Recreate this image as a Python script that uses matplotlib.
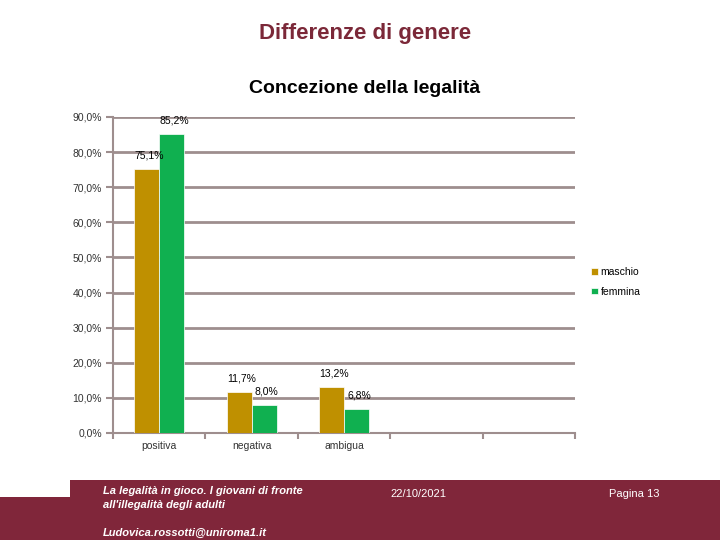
import matplotlib
matplotlib.use("Agg")
import matplotlib.pyplot as plt
from matplotlib.patches import Polygon
import numpy as np

categories = ["positiva", "negativa", "ambigua"]
maschio = [75.1, 11.7, 13.2]
femmina = [85.2, 8.0, 6.8]
series_names = ["maschio", "femmina"]
yticks = [0, 10, 20, 30, 40, 50, 60, 70, 80, 90]

W, H = 720, 540
fig = plt.figure(figsize=(7.2, 5.4), dpi=100)
fig.patch.set_facecolor("white")

def fx(px): return px / W
def fy(py): return 1 - py / H

maroon = "#80263a"
gold = "#bf9000"
green = "#10b050"
grid_c = "#9e8e8e"
FAM = "Liberation Sans"

# footer band
fig.patches.append(Polygon([[fx(70), fy(480)], [fx(720), fy(480)], [fx(720), fy(540)],
                            [fx(0), fy(540)], [fx(0), fy(497)], [fx(70), fy(497)]],
                           closed=True, transform=fig.transFigure, facecolor=maroon,
                           edgecolor="none", zorder=0))

fig.text(fx(365), fy(34), "Differenze di genere", color="#7b2838", fontsize=16,
         weight="bold", ha="center", va="center", family=FAM)
fig.text(fx(365), fy(89), "Concezione della legalità", color="black", fontsize=14,
         weight="bold", ha="center", va="center", family=FAM)

ax = fig.add_axes([fx(113), fy(433), (575 - 113) / W, (433 - 117) / H])
ax.set_xlim(0, 5)
ax.set_ylim(0, 90)
x = np.arange(len(categories)) + 0.5
bw = 0.27
ax.bar(x - bw / 2, maschio, width=bw, color=gold, label=series_names[0], zorder=3,
       edgecolor="white", linewidth=0.5)
ax.bar(x + bw / 2, femmina, width=bw, color=green, label=series_names[1], zorder=3,
       edgecolor="white", linewidth=0.5)

def fmt(v):
    return ("%.1f%%" % v).replace(".", ",")

for xi, v in zip(x - bw / 2, maschio):
    ax.annotate(fmt(v), (xi + 0.03, v), xytext=(0, 6), textcoords="offset points",
                ha="center", va="bottom", fontsize=7.5, family=FAM)
for xi, v in zip(x + bw / 2, femmina):
    ax.annotate(fmt(v), (xi + 0.03, v), xytext=(0, 6), textcoords="offset points",
                ha="center", va="bottom", fontsize=7.5, family=FAM)

ax.set_yticks(yticks)
ax.set_yticklabels([("%.1f%%" % t).replace(".", ",") for t in yticks],
                   fontsize=7.5, family=FAM, color="#333333")
ax.yaxis.grid(True, color=grid_c, linewidth=2, zorder=0)
ax.set_axisbelow(True)
ax.set_xticks(np.arange(0, 6))
ax.set_xticklabels([])
ax.set_xticks(x, minor=True)
ax.set_xticklabels(categories, minor=True, fontsize=7.5, family=FAM, color="#333333")
ax.tick_params(axis="x", which="major", length=4, width=1.5, color=grid_c)
ax.tick_params(axis="x", which="minor", length=0, pad=6)
ax.tick_params(axis="y", length=5, width=1.5, color=grid_c, pad=3)
for s in ["top", "right"]:
    ax.spines[s].set_visible(False)
ax.spines["left"].set_color(grid_c)
ax.spines["left"].set_linewidth(1.5)
ax.spines["bottom"].set_color(grid_c)
ax.spines["bottom"].set_linewidth(1.5)

leg = fig.legend(loc="upper left", bbox_to_anchor=(fx(582), fy(258)), frameon=False,
                 handlelength=0.6, handleheight=0.6, handletextpad=0.3,
                 labelspacing=0.9, prop={"family": FAM, "size": 7.5})

fig.text(fx(103), fy(491), "La legalità in gioco. I giovani di fronte",
         color="white", fontsize=8, style="italic", weight="bold", ha="left", va="center",
         family=FAM)
fig.text(fx(103), fy(505), "all'illegalità degli adulti",
         color="white", fontsize=8, style="italic", weight="bold", ha="left", va="center",
         family=FAM)
fig.text(fx(103), fy(533), "Ludovica.rossotti@uniroma1.it", color="white", fontsize=8,
         style="italic", weight="bold", ha="left", va="center", family=FAM)
fig.text(fx(390), fy(494), "22/10/2021", color="white", fontsize=8, ha="left",
         va="center", family=FAM)
fig.text(fx(609), fy(494), "Pagina 13", color="white", fontsize=8, ha="left",
         va="center", family=FAM)

fig.savefig("out.png", dpi=100)
